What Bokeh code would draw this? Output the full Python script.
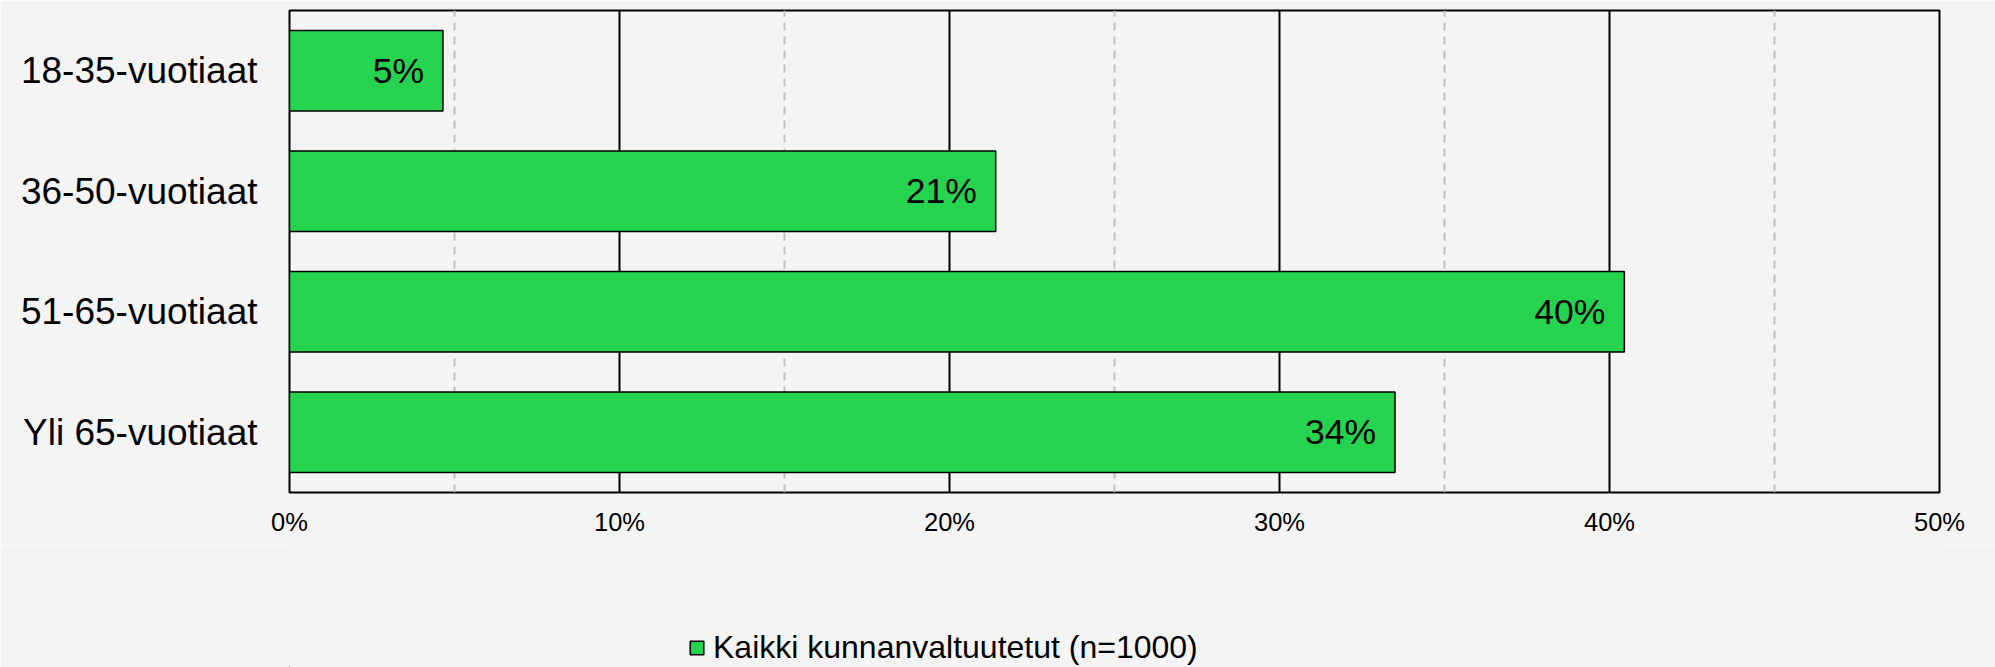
from bokeh.plotting import figure
from bokeh.layouts import column
from bokeh.models import (ColumnDataSource, FactorRange, Range1d, FixedTicker,
                          PrintfTickFormatter, Legend, LegendItem)
from bokeh.core.properties import value
from bokeh.embed import file_html
from bokeh.resources import INLINE

# ---- data ----
categories = ["18-35-vuotiaat", "36-50-vuotiaat", "51-65-vuotiaat", "Yli 65-vuotiaat"]
values = [4.65, 21.4, 40.45, 33.5]
labels = ["5%", "21%", "40%", "34%"]
series_name = "Kaikki kunnanvaltuutetut (n=1000)"
x_ticks = [0, 10, 20, 30, 40, 50]
x_minor = [5, 15, 25, 35, 45]

FONT = "Liberation Sans"
BG = "#f4f4f4"
GREEN = "#25d34f"

src = ColumnDataSource(dict(cat=categories, val=values, lab=labels))

p = figure(width=1995, height=545, output_backend="svg", toolbar_location=None,
           y_range=FactorRange(factors=list(reversed(categories)), range_padding=0),
           x_range=Range1d(0, 50),
           min_border_left=289, min_border_right=56, min_border_top=10,
           min_border_bottom=53)
p.background_fill_color = BG
p.border_fill_color = BG
p.outline_line_color = "black"
p.outline_line_width = 2

bar_style = dict(fill_color=GREEN, line_color="black", line_width=1.5)
bars = p.hbar(y="cat", right="val", left=0, height=0.67, source=src, **bar_style)

p.text(x="val", y="cat", text="lab", source=src, x_offset=-19, y_offset=0,
       text_align="right", text_baseline="middle",
       text_font=value(FONT), text_font_size="35.5px", text_color="black")

# x axis
p.xaxis.ticker = FixedTicker(ticks=x_ticks, minor_ticks=x_minor)
p.xaxis.formatter = PrintfTickFormatter(format="%d%%")
p.xaxis.axis_line_color = None
p.xaxis.major_tick_out = 0
p.xaxis.major_tick_in = 0
p.xaxis.minor_tick_out = 0
p.xaxis.minor_tick_in = 0
p.xaxis.major_label_standoff = 15
p.xaxis.major_label_text_font = FONT
p.xaxis.major_label_text_font_size = "25.5px"
p.xaxis.major_label_text_color = "black"

# y axis
p.yaxis.axis_line_color = None
p.yaxis.major_tick_out = 0
p.yaxis.major_tick_in = 0
p.yaxis.major_label_standoff = 32
p.yaxis.major_label_text_font = FONT
p.yaxis.major_label_text_font_size = "37px"
p.yaxis.major_label_text_color = "black"

# grids
p.ygrid.grid_line_color = None
p.xgrid.grid_line_color = "black"
p.xgrid.grid_line_width = 2
p.xgrid.minor_grid_line_color = "#c0c0c0"
p.xgrid.minor_grid_line_width = 2
p.xgrid.minor_grid_line_dash = "8 6"

# legend strip below the chart: a helper renderer whose bars lie outside its view
# (left of and below it), so only the legend entry is visible
q = figure(width=1995, height=122, output_backend="svg", toolbar_location=None,
           x_range=Range1d(100, 101), y_range=Range1d(100, 101),
           x_axis_type=None, y_axis_type=None,
           min_border_left=289, min_border_right=56, min_border_top=0,
           min_border_bottom=0)
q.background_fill_color = BG
q.border_fill_color = BG
q.outline_line_color = None
q.grid.visible = False
legend_bar = q.hbar(y="val", right="val", left=0, height=0.67, source=src, **bar_style)

legend = Legend(items=[LegendItem(label=series_name, renderers=[legend_bar])],
                location=(399, 1), orientation="horizontal",
                glyph_width=17, glyph_height=17, label_standoff=8,
                padding=0, margin=0, spacing=0,
                border_line_color=None, background_fill_alpha=0,
                label_text_font=FONT, label_text_font_size="32px",
                label_text_color="black")
q.add_layout(legend, "center")

layout = column(p, q, spacing=0)
open("out.html", "w").write(file_html(layout, INLINE))
